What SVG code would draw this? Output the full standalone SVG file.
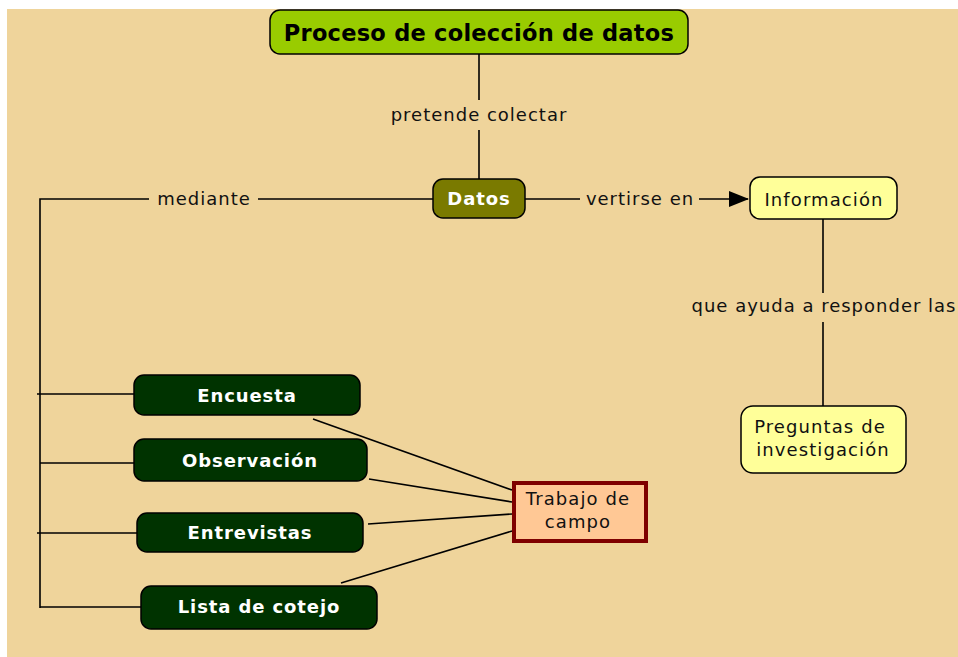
<svg xmlns="http://www.w3.org/2000/svg" width="958" height="657" viewBox="0 0 958 657">
<style>
.bg{fill:#efd49b}
.ln{stroke:#000;stroke-width:1.6;fill:none}
.lbl{font-family:"DejaVu Sans",Verdana,sans-serif;font-size:18px;fill:#111;text-anchor:middle;letter-spacing:1px}
.nt{font-family:"DejaVu Sans",Verdana,sans-serif;font-size:18px;font-weight:bold;fill:#fff;text-anchor:middle;letter-spacing:0.9px}
.dg{fill:#003300;stroke:#000;stroke-width:1.5}
.yl{fill:#ffff99;stroke:#000;stroke-width:1.5}
.bt{font-family:"DejaVu Sans",Verdana,sans-serif;font-size:18px;fill:#111;text-anchor:middle;letter-spacing:1.1px}
</style>
<defs>
<marker id="arr" markerWidth="20" markerHeight="16" refX="19" refY="8" orient="auto" markerUnits="userSpaceOnUse">
<path d="M0,0 L20,8 L0,16 Z" fill="#000"/>
</marker>
</defs>
<rect x="0" y="0" width="958" height="657" fill="#fff"/>
<rect class="bg" x="7" y="9" width="951" height="648"/>
<g id="connectors">
<line class="ln" x1="479" y1="54" x2="479" y2="100"/>
<line class="ln" x1="479" y1="130" x2="479" y2="179"/>
<polyline class="ln" points="149,199 40,199 40,608"/>
<line class="ln" x1="258" y1="199" x2="433" y2="199"/>
<line class="ln" x1="525" y1="199" x2="580" y2="199"/>
<line class="ln" x1="699" y1="199" x2="748" y2="199" marker-end="url(#arr)"/>
<line class="ln" x1="823" y1="219" x2="823" y2="293"/>
<line class="ln" x1="823" y1="322" x2="823" y2="406"/>
<line class="ln" x1="37" y1="394" x2="134" y2="394"/>
<line class="ln" x1="40" y1="463" x2="134" y2="463"/>
<line class="ln" x1="37" y1="533" x2="137" y2="533"/>
<line class="ln" x1="40" y1="607" x2="141" y2="607"/>
<line class="ln" x1="313" y1="419" x2="512" y2="490"/>
<line class="ln" x1="369" y1="479" x2="512" y2="502"/>
<line class="ln" x1="368" y1="524" x2="512" y2="514"/>
<line class="ln" x1="341" y1="583" x2="512" y2="531"/>
<text class="lbl" x="479" y="121">pretende colectar</text>
<text class="lbl" x="204" y="205">mediante</text>
<text class="lbl" x="640" y="205">vertirse en</text>
<text class="lbl" x="824" y="312">que ayuda a responder las</text>
</g>
<g id="n-proceso">
<rect x="270" y="10" width="418" height="44" rx="10" fill="#99cc00" stroke="#000" stroke-width="1.5"/>
<text x="479" y="41" font-family="DejaVu Sans,Verdana,sans-serif" font-size="22.5" font-weight="bold" fill="#000" text-anchor="middle" letter-spacing="0.25">Proceso de colección de datos</text>
</g>
<g id="n-datos">
<rect x="433" y="179" width="92" height="39" rx="10" fill="#7a7a00" stroke="#000" stroke-width="1.5"/>
<text class="nt" x="479" y="205">Datos</text>
</g>
<g id="n-info">
<rect class="yl" x="750" y="177" width="147" height="42" rx="10"/>
<text class="bt" x="824" y="206">Información</text>
</g>
<g id="n-preguntas">
<rect class="yl" x="741" y="406" width="165" height="67" rx="12"/>
<text class="bt" x="820" y="433">Preguntas de</text>
<text class="bt" x="823" y="456">investigación</text>
</g>
<g id="n-encuesta">
<rect class="dg" x="134" y="375" width="226" height="40" rx="10"/>
<text class="nt" x="247" y="402">Encuesta</text>
</g>
<g id="n-observacion">
<rect class="dg" x="134" y="439" width="233" height="42" rx="10"/>
<text class="nt" x="250" y="467">Observación</text>
</g>
<g id="n-entrevistas">
<rect class="dg" x="137" y="513" width="226" height="39" rx="10"/>
<text class="nt" x="250" y="539">Entrevistas</text>
</g>
<g id="n-lista">
<rect class="dg" x="141" y="586" width="236" height="43" rx="10"/>
<text class="nt" x="259" y="613">Lista de cotejo</text>
</g>
<g id="n-trabajo">
<rect x="514" y="483" width="132" height="58" fill="#ffc895" stroke="#7f0000" stroke-width="4"/>
<text class="bt" x="578" y="505">Trabajo de</text>
<text class="bt" x="578" y="528">campo</text>
</g>
</svg>
